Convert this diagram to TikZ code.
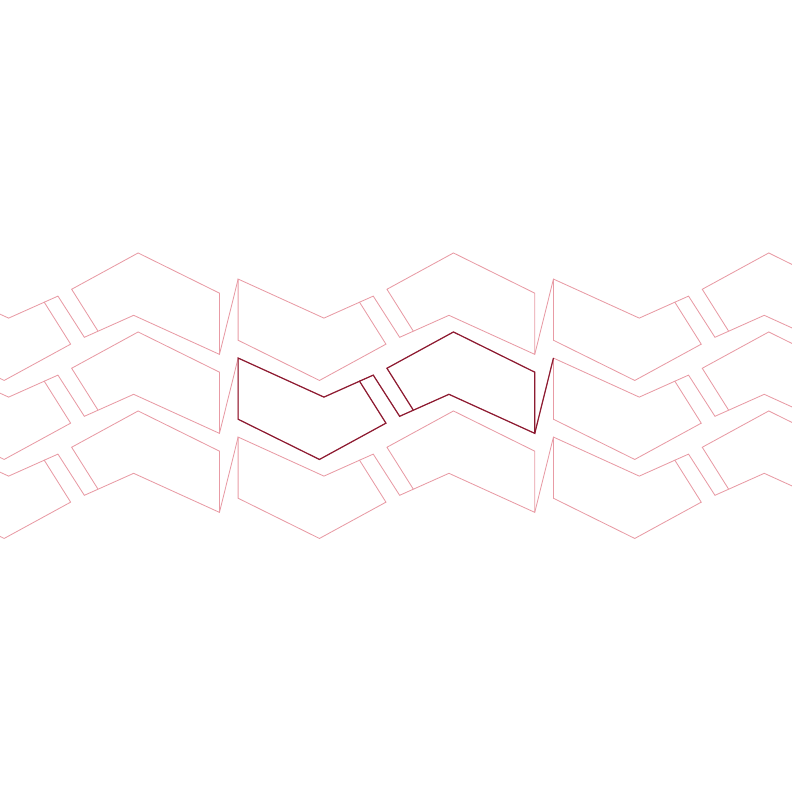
\documentclass[tikz,border=0pt]{standalone}
\definecolor{darkred}{RGB}{140,28,50}
\definecolor{lightred}{RGB}{232,155,165}
\newcommand\tilepaths[1]{%
  \draw[#1] (-148.3,-37.65) -- (-62.5,1.4) -- (-26.9,-14.5) -- (-0.5,27.45) -- (-67,63.75) -- (-148.3,23.55) -- cycle;
  \draw[#1] (-26.9,-14.5) -- (-13.2,-20.6) -- (13.2,20.6) -- (26.9,14.5);
  \draw[#1] (0.5,-27.45) -- (67,-63.75) -- (148.3,-23.55) -- (148.3,37.65) -- (62.5,-1.4) -- (26.9,14.5) -- cycle;
  \draw[#1] (148.3,37.65) -- (167,-37.65);
}
\begin{document}
\begin{tikzpicture}[x=0.025cm,y=-0.025cm,
  lighttile/.style={draw=lightred,line width=0.6pt,line join=miter},
  darktile/.style={draw=darkred,line width=0.85pt,line join=miter}]
\useasboundingbox (0,0) rectangle (792,792);
\clip (0,0) rectangle (792,792);
\foreach \i in {-1,0,1}{
  \foreach \j in {-1,0,1}{
    \begin{scope}[shift={(386.45+\i*315.3,395.7+\j*79)}]
      \tilepaths{lighttile}
    \end{scope}
  }
}
\begin{scope}[shift={(386.45,395.7)}]
  \tilepaths{darktile}
\end{scope}
\end{tikzpicture}
\end{document}
